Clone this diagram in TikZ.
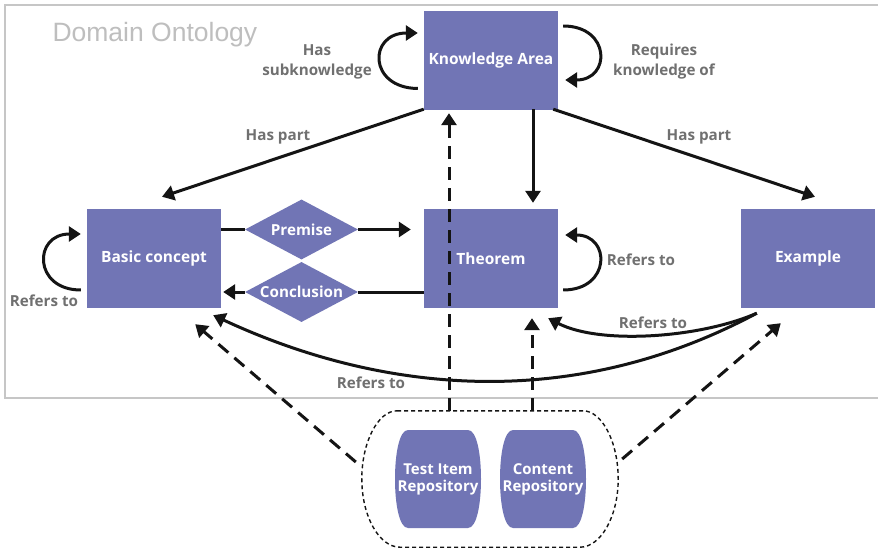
\documentclass[tikz,border=0pt]{standalone}
\usepackage{fontspec}
\setmainfont{Open Sans}
\newfontfamily\titlefont{Liberation Sans}
\usetikzlibrary{shapes.geometric,arrows.meta,calc,backgrounds}
\definecolor{boxfill}{RGB}{113,117,181}
\definecolor{lblgray}{RGB}{112,112,112}
\definecolor{framegray}{RGB}{198,198,198}
\definecolor{titlegray}{RGB}{190,190,190}
\definecolor{ink}{RGB}{20,20,20}

% barrel-shaped repository body around a node centre
\newcommand\barrelfill[1]{%
  \fill[boxfill] ($(#1)+(-30,-49)$) -- ($(#1)+(30,-49)$)
    .. controls ($(#1)+(39,-49)$) and ($(#1)+(43,-24)$) .. ($(#1)+(43,0)$)
    .. controls ($(#1)+(43,24)$) and ($(#1)+(39,49)$) .. ($(#1)+(30,49)$)
    -- ($(#1)+(-30,49)$)
    .. controls ($(#1)+(-39,49)$) and ($(#1)+(-43,24)$) .. ($(#1)+(-43,0)$)
    .. controls ($(#1)+(-43,-24)$) and ($(#1)+(-39,-49)$) .. cycle;}

% rounded dashed outline that groups the repositories (elliptic corners)
\newcommand\groupoutline[1]{%
  \draw[ink, line width=1.4pt, dash pattern=on 4pt off 3pt]
    ($(#1.north)+(-93,0)$) -- ($(#1.north)+(93,0)$)
    .. controls ($(#1.north)+(112,0)$) and ($(#1.east)+(0,-37)$) .. (#1.east)
    .. controls ($(#1.east)+(0,37)$) and ($(#1.south)+(111,0)$) .. ($(#1.south)+(90,0)$)
    -- ($(#1.south)+(-90,0)$)
    .. controls ($(#1.south)+(-111,0)$) and ($(#1.west)+(0,37)$) .. (#1.west)
    .. controls ($(#1.west)+(0,-37)$) and ($(#1.north)+(-112,0)$) .. cycle;}

\begin{document}
\begin{tikzpicture}[x=1pt,y=-1pt,
  concept/.style={rectangle, fill=boxfill, minimum width=134pt, minimum height=99pt,
    inner sep=0pt, text=white, font=\fontsize{15.5}{18}\selectfont\bfseries},
  relbox/.style={diamond, fill=boxfill, minimum width=113pt, minimum height=60pt,
    aspect=1.88, inner sep=0pt, text=white, font=\fontsize{15.2}{18}\selectfont\bfseries},
  repotext/.style={minimum width=86pt, minimum height=98pt, inner sep=0pt, text=white,
    align=center, font=\fontsize{15}{17}\selectfont\bfseries},
  lbl/.style={text=lblgray, font=\fontsize{15.2}{20}\selectfont\bfseries, align=center},
  link/.style={line width=3pt, draw=ink},
  arr/.style={link, -{Triangle[length=12pt,width=15pt]}},
  dlink/.style={arr, dash pattern=on 13pt off 8pt},
]
\useasboundingbox (0,0) rectangle (878,548);

% concepts
\node[concept] (ka) at (491,60.5) {Knowledge Area};
\node[concept] (bc) at (154,258.5) {Basic concept};
\node[concept] (th) at (491,258.5) {Theorem};
\node[concept] (ex) at (808,258.5) {Example};

% relation diamonds
\node[relbox] (prem) at (301.5,229.5) {Premise};
\node[relbox] (concl) at (301.5,292) {Conclusion};

% repositories
\node[minimum width=256pt, minimum height=136pt, inner sep=0pt] (repo) at (490,479) {};
\groupoutline{repo}
\node[repotext] (ti) at (438,479) {Test Item\\Repository};
\node[repotext] (cr) at (543,479) {Content\\Repository};

\begin{scope}[on background layer]
  \fill[white] (0,0) rectangle (878,548);
  \draw[framegray, line width=2pt] (5,5) rectangle (880,398);
  \barrelfill{ti}
  \barrelfill{cr}
\end{scope}

\node[anchor=base west, text=titlegray, font=\titlefont\fontsize{26.5}{30}\selectfont] (title) at (49,42) {Domain Ontology};

% self references
\draw[arr] ($(ka.west)+(-6,28)$) .. controls (368,88) and (368,33) .. ($(ka.west)+(-6,-27.5)$);
\node[lbl] (lsub) at (317,62) {Has\\subknowledge};
\draw[arr] ($(ka.east)+(5,-34.5)$) .. controls (611,26) and (611,80) .. ($(ka.east)+(7,19.5)$);
\node[lbl] (lreq) at (664,62) {Requires\\knowledge of};

\draw[arr] ($(bc.west)+(-6,31.5)$) .. controls (33,290) and (33,234) .. ($(bc.west)+(-6,-24.5)$);
\node[lbl] (lbc) at (44,301) {Refers to};
\draw[arr] ($(th.east)+(5,31.5)$) .. controls (611,290) and (611,235) .. ($(th.east)+(7,-23.5)$);
\node[lbl] (lth) at (641,260) {Refers to};

% part-of relations
\draw[arr] ($(ka.south west)+(0,-1)$) -- ($(bc.north)+(8,-12)$);
\node[lbl] (lhp1) at (278,137) {Has part};
\draw[arr] ($(ka.south east)+(-5,-1)$) -- ($(ex.north)+(7,-12)$);
\node[lbl] (lhp2) at (699,137) {Has part};
\draw[arr] ($(ka.south)+(42,-1)$) -- ($(th.north)+(42,-6)$);

% premise / conclusion
\draw[link] (prem.west -| bc.east) -- (prem.west);
\draw[arr] (prem.east) -- ($(prem.east -| th.west)+(-13,0)$);
\draw[link] (concl.east -| th.west) -- (concl.east);
\draw[arr] (concl.west) -- ($(concl.west -| bc.east)+(2,0)$);

% references from examples
\draw[arr] ($(ex.south west)+(16,5)$) .. controls (700,338) and (600,345) .. ($(th.south east)+(-10,10)$);
\node[lbl] (lex1) at (653,323) {Refers to};
\draw[arr] ($(ex.south west)+(16,5)$) .. controls (557,420) and (363,385) .. ($(bc.south east)+(-8,7)$);
\node[lbl] (lex2) at (371,383) {Refers to};

% repository links
\draw[dlink] ($(repo.north)+(-41,0)$) -- ($(ka.south)+(-42,3)$);
\draw[dlink] ($(repo.north)+(42,0)$) -- ($(th.south)+(41,10)$);
\draw[dlink] ($(repo.west)+(-6,-17)$) -- ($(bc.south east)+(-26,16)$);
\draw[dlink] ($(repo.east)+(4,-20)$) -- ($(ex.south west)+(40,15)$);
\end{tikzpicture}
\end{document}
